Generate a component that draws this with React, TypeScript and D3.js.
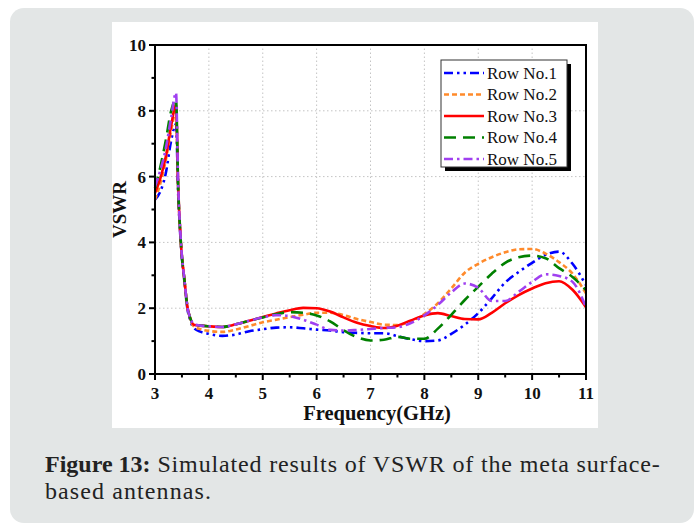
import React from "react";
import * as d3 from "d3";

// frequency samples (GHz) shared by all rows
const freq = [
  3.0, 3.1, 3.2, 3.3, 3.39, 3.43, 3.48, 3.55, 3.6, 3.65, 3.72, 3.85, 4.0, 4.25, 4.5, 4.75,
  5.0, 5.25, 5.5, 5.75, 6.0, 6.25, 6.5, 6.75, 7.0, 7.25, 7.5, 7.75, 8.0, 8.25, 8.5, 8.75,
  9.0, 9.25, 9.5, 9.75, 10.0, 10.25, 10.5, 10.75, 11.0,
];

const row1 = [
  5.3, 5.55, 6.1, 7.1, 7.6, 5.5, 3.95, 2.75, 2.0, 1.65, 1.4, 1.28, 1.22, 1.16, 1.2, 1.3,
  1.36, 1.41, 1.42, 1.39, 1.35, 1.32, 1.27, 1.25, 1.24, 1.24, 1.15, 1.06, 1.0, 1.02, 1.22, 1.5,
  1.85, 2.3, 2.78, 3.1, 3.38, 3.62, 3.72, 3.35, 2.7,
];
const row2 = [
  5.3, 5.8, 6.5, 7.4, 8.0, 5.6, 4.0, 2.8, 2.05, 1.7, 1.45, 1.36, 1.31, 1.28, 1.35, 1.46,
  1.57, 1.65, 1.73, 1.8, 1.86, 1.86, 1.79, 1.67, 1.58, 1.5, 1.49, 1.6, 1.82, 2.15, 2.6, 3.08,
  3.35, 3.55, 3.7, 3.79, 3.8, 3.66, 3.4, 3.05, 2.45,
];
const row3 = [
  5.5, 5.95, 6.6, 7.55, 8.18, 5.7, 4.0, 2.8, 2.05, 1.72, 1.5, 1.47, 1.45, 1.43, 1.51, 1.62,
  1.73, 1.84, 1.94, 2.01, 2.0, 1.9, 1.72, 1.56, 1.46, 1.4, 1.47, 1.63, 1.78, 1.85, 1.76, 1.67,
  1.66, 1.86, 2.15, 2.4, 2.6, 2.76, 2.82, 2.56, 2.03,
];
const row4 = [
  5.65, 6.3, 7.1, 8.0, 8.35, 5.7, 4.0, 2.8, 2.05, 1.72, 1.5, 1.47, 1.45, 1.43, 1.51, 1.62,
  1.72, 1.82, 1.88, 1.86, 1.78, 1.6, 1.33, 1.12, 1.02, 1.04, 1.13, 1.07, 1.07, 1.38, 1.8, 2.25,
  2.65, 3.05, 3.38, 3.55, 3.6, 3.52, 3.22, 2.95, 2.55,
];
const row5 = [
  5.7, 6.2, 6.85, 7.8, 8.55, 5.8, 4.05, 2.8, 2.05, 1.72, 1.52, 1.47, 1.45, 1.43, 1.51, 1.62,
  1.72, 1.79, 1.76, 1.65, 1.5, 1.34, 1.32, 1.34, 1.37, 1.4, 1.42, 1.55, 1.78, 2.1, 2.48, 2.75,
  2.62, 2.22, 2.22, 2.5, 2.8, 3.03, 2.98, 2.8, 2.03,
];

const seriesNames = ["Row No.1", "Row No.2", "Row No.3", "Row No.4", "Row No.5"];
const seriesValues = [row1, row2, row3, row4, row5];

const xTicks = [3, 4, 5, 6, 7, 8, 9, 10, 11];
const yTicks = [0, 2, 4, 6, 8, 10];

// line look per row
const lineStyles = [
  { color: "#0000ff", dash: "9,4,2.5,4,2.5,4" },
  { color: "#ff8a2b", dash: "5,3" },
  { color: "#ff0000", dash: "" },
  { color: "#008000", dash: "12,7" },
  { color: "#a040f0", dash: "9,4,2.5,4" },
];

const W = 697;
const H = 526;
const serif = "'Liberation Serif', 'Times New Roman', serif";

export default function App() {
  const x = d3.scaleLinear().domain([3, 11]).range([155, 586]);
  const y = d3.scaleLinear().domain([0, 10]).range([374, 45]);

  const line = d3
    .line<[number, number]>()
    .x((d) => x(d[0]))
    .y((d) => y(d[1]))
    .curve(d3.curveMonotoneX);

  const minorX = d3.range(3.5, 11, 1);
  const minorY = d3.range(1, 10, 2);

  const lx = 441;
  const ly = 60;
  const lw = 126;
  const lh = 107;

  return (
    <svg
      width={W}
      height={H}
      style={{ position: "absolute", left: 0, top: 0, display: "block" }}
      fontFamily={serif}
    >
      <rect x={10} y={8} width={684} height={515} rx={14} fill="#e3e6e6" />
      <rect x={112} y={22} width={486} height={406} fill="#ffffff" />

      {/* grid */}
      <g stroke="#c4c4c4" strokeWidth={1} strokeDasharray="1.5,2.5">
        {xTicks.slice(1, -1).map((t) => (
          <line key={"gx" + t} x1={x(t)} x2={x(t)} y1={y(0)} y2={y(10)} />
        ))}
        {yTicks.slice(1, -1).map((t) => (
          <line key={"gy" + t} x1={x(3)} x2={x(11)} y1={y(t)} y2={y(t)} />
        ))}
      </g>

      {/* curves */}
      <g fill="none" strokeWidth={2.6}>
        {seriesValues.map((vals, i) => (
          <path
            key={seriesNames[i]}
            d={line(freq.map((f, j) => [f, vals[j]]) as [number, number][]) || ""}
            stroke={lineStyles[i].color}
            strokeDasharray={lineStyles[i].dash || undefined}
          />
        ))}
      </g>

      {/* frame + ticks */}
      <g stroke="#000" strokeWidth={2}>
        <rect x={x(3)} y={y(10)} width={x(11) - x(3)} height={y(0) - y(10)} fill="none" />
        {xTicks.map((t) => (
          <line key={"tx" + t} x1={x(t)} x2={x(t)} y1={y(0)} y2={y(0) + 6} />
        ))}
        {minorX.map((t) => (
          <line key={"mx" + t} x1={x(t)} x2={x(t)} y1={y(0)} y2={y(0) + 3.5} />
        ))}
        {yTicks.map((t) => (
          <line key={"ty" + t} x1={x(3) - 6} x2={x(3)} y1={y(t)} y2={y(t)} />
        ))}
        {minorY.map((t) => (
          <line key={"my" + t} x1={x(3) - 3.5} x2={x(3)} y1={y(t)} y2={y(t)} />
        ))}
      </g>

      {/* tick labels */}
      <g fontSize={17} fontWeight="bold" fill="#111">
        {xTicks.map((t) => (
          <text key={"lx" + t} x={x(t)} y={y(0) + 25} textAnchor="middle">
            {t}
          </text>
        ))}
        {yTicks.map((t) => (
          <text key={"ly" + t} x={x(3) - 9} y={y(t)} dy="0.35em" textAnchor="end">
            {t}
          </text>
        ))}
      </g>

      <text x={377} y={420} textAnchor="middle" fontSize={20.5} fontWeight="bold" fill="#111">
        Frequency(GHz)
      </text>
      <text
        transform={`translate(126,${y(5)}) rotate(-90)`}
        textAnchor="middle"
        fontSize={19}
        fontWeight="bold"
        fill="#111"
      >
        VSWR
      </text>

      {/* legend */}
      <rect x={lx + 4} y={ly + 4} width={lw} height={lh} fill="#000" />
      <rect x={lx} y={ly} width={lw} height={lh} fill="#fff" stroke="#333" strokeWidth={1} />
      {seriesNames.map((name, i) => {
        const yy = ly + 13 + i * 21.5;
        return (
          <g key={"lg" + name}>
            <line
              x1={lx + 3}
              x2={lx + 43}
              y1={yy}
              y2={yy}
              stroke={lineStyles[i].color}
              strokeWidth={2.6}
              strokeDasharray={lineStyles[i].dash || undefined}
            />
            <text x={lx + 46} y={yy} dy="0.35em" fontSize={17} fill="#111">
              {name}
            </text>
          </g>
        );
      })}

      {/* caption */}
      <text x={45} y={472} fontSize={24} fill="#222">
        <tspan fontWeight="bold">Figure 13:</tspan>
        <tspan letterSpacing={0.85}> Simulated results of VSWR of the meta surface-</tspan>
      </text>
      <text x={45} y={499} fontSize={24} fill="#222" letterSpacing={1.1}>
        based antennas.
      </text>
    </svg>
  );
}
